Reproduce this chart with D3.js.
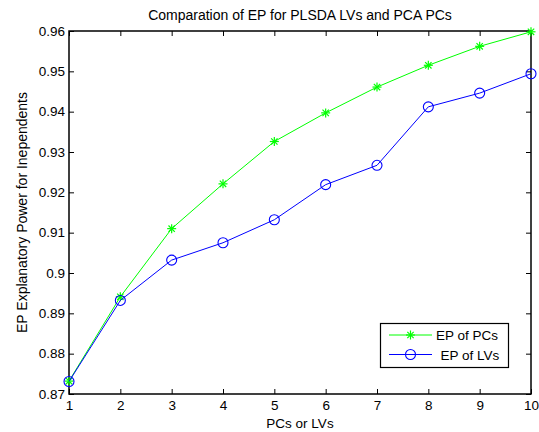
<!DOCTYPE html>
<html>
<head>
<meta charset="utf-8">
<script src="https://cdn.jsdelivr.net/npm/d3@7.9.0/dist/d3.min.js"></script>
<style>
  body { margin: 0; background: #fff; }
  svg { display: block; font-family: "Liberation Sans", Arial, sans-serif; }
</style>
</head>
<body>
<svg width="539" height="432"></svg>
<script>
// data
const components = [1, 2, 3, 4, 5, 6, 7, 8, 9, 10];
const epPCs = [0.8732, 0.8941, 0.9110, 0.9221, 0.9326, 0.9397, 0.9461, 0.9515, 0.9562, 0.9598];
const epLVs = [0.8731, 0.8932, 0.9032, 0.9075, 0.9132, 0.9219, 0.9267, 0.9412, 0.9446, 0.9494];
const yTicks = [0.87, 0.88, 0.89, 0.9, 0.91, 0.92, 0.93, 0.94, 0.95, 0.96];

const svg = d3.select("svg");
const plotL = 69, plotR = 531, plotT = 31, plotB = 394;
const fs = 13.5;

const x = d3.scaleLinear().domain([1, 10]).range([plotL, plotR]);
const y = d3.scaleLinear().domain([0.87, 0.96]).range([plotB, plotT]);

// axes (matlab style, ticks pointing in, box all round)
svg.append("g").attr("transform", `translate(0,${plotB})`)
  .call(d3.axisBottom(x).tickValues(components).tickSizeInner(-5).tickSizeOuter(0).tickPadding(6))
  .call(g => g.select(".domain").remove());
svg.append("g").attr("transform", `translate(0,${plotT})`)
  .call(d3.axisTop(x).tickValues(components).tickSizeInner(-5).tickSizeOuter(0).tickFormat(""))
  .call(g => g.select(".domain").remove());
svg.append("g").attr("transform", `translate(${plotL},0)`)
  .call(d3.axisLeft(y).tickValues(yTicks).tickSizeInner(-5).tickSizeOuter(0).tickPadding(4).tickFormat(d => String(d)))
  .call(g => g.select(".domain").remove());
svg.append("g").attr("transform", `translate(${plotR},0)`)
  .call(d3.axisRight(y).tickValues(yTicks).tickSizeInner(-5).tickSizeOuter(0).tickFormat(""))
  .call(g => g.select(".domain").remove());

svg.selectAll(".tick text").attr("font-size", fs).attr("fill", "#000")
  .attr("font-family", "Liberation Sans, Arial, sans-serif");
svg.selectAll(".tick line").attr("stroke", "#000");

svg.append("rect")
  .attr("x", plotL).attr("y", plotT)
  .attr("width", plotR - plotL).attr("height", plotB - plotT)
  .attr("fill", "none").attr("stroke", "#000").attr("stroke-width", 1.5);

// labels
svg.append("text").attr("x", (plotL + plotR) / 2).attr("y", 19.5)
  .attr("text-anchor", "middle").attr("font-size", 14)
  .text("Comparation of EP for PLSDA LVs and PCA PCs");
svg.append("text").attr("x", (plotL + plotR) / 2).attr("y", 428)
  .attr("text-anchor", "middle").attr("font-size", fs)
  .text("PCs or LVs");
svg.append("text")
  .attr("transform", `translate(27,${(plotT + plotB) / 2}) rotate(-90)`)
  .attr("text-anchor", "middle").attr("font-size", 14)
  .text("EP Explanatory Power for Inependents");

// markers
function star(g, cx, cy, color) {
  const r = 4.5;
  [0, 45, 90, 135].forEach(a => {
    const dx = r * Math.cos(a * Math.PI / 180), dy = r * Math.sin(a * Math.PI / 180);
    g.append("line").attr("x1", cx - dx).attr("y1", cy - dy)
      .attr("x2", cx + dx).attr("y2", cy + dy)
      .attr("stroke", color).attr("stroke-width", 1.2);
  });
}
function circ(g, cx, cy, color) {
  g.append("circle").attr("cx", cx).attr("cy", cy).attr("r", 5)
    .attr("fill", "none").attr("stroke", color).attr("stroke-width", 1.1);
}

const line = d3.line().x((d, i) => x(components[i])).y(d => y(d));

const series = [
  { name: "EP of PCs", values: epPCs, color: "#00ff00", marker: star },
  { name: "EP of LVs", values: epLVs, color: "#0000ff", marker: circ }
];

series.forEach(s => {
  const g = svg.append("g");
  g.append("path").attr("d", line(s.values))
    .attr("fill", "none").attr("stroke", s.color).attr("stroke-width", 1);
  s.values.forEach((v, i) => s.marker(g, x(components[i]), y(v), s.color));
});

// legend
const lg = svg.append("g");
lg.append("rect").attr("x", 380.5).attr("y", 323.5).attr("width", 128).attr("height", 44)
  .attr("fill", "#fff").attr("stroke", "#000").attr("stroke-width", 1.2);
series.forEach((s, i) => {
  const ly = 335 + i * 19.5;
  lg.append("line").attr("x1", 389).attr("x2", 432).attr("y1", ly).attr("y2", ly)
    .attr("stroke", s.color).attr("stroke-width", 1);
  s.marker(lg, 410.5, ly, s.color);
  lg.append("text").attr("x", i === 0 ? 436 : 440.5).attr("y", ly + 5)
    .attr("font-size", fs).text(s.name);
});
</script>
</body>
</html>
